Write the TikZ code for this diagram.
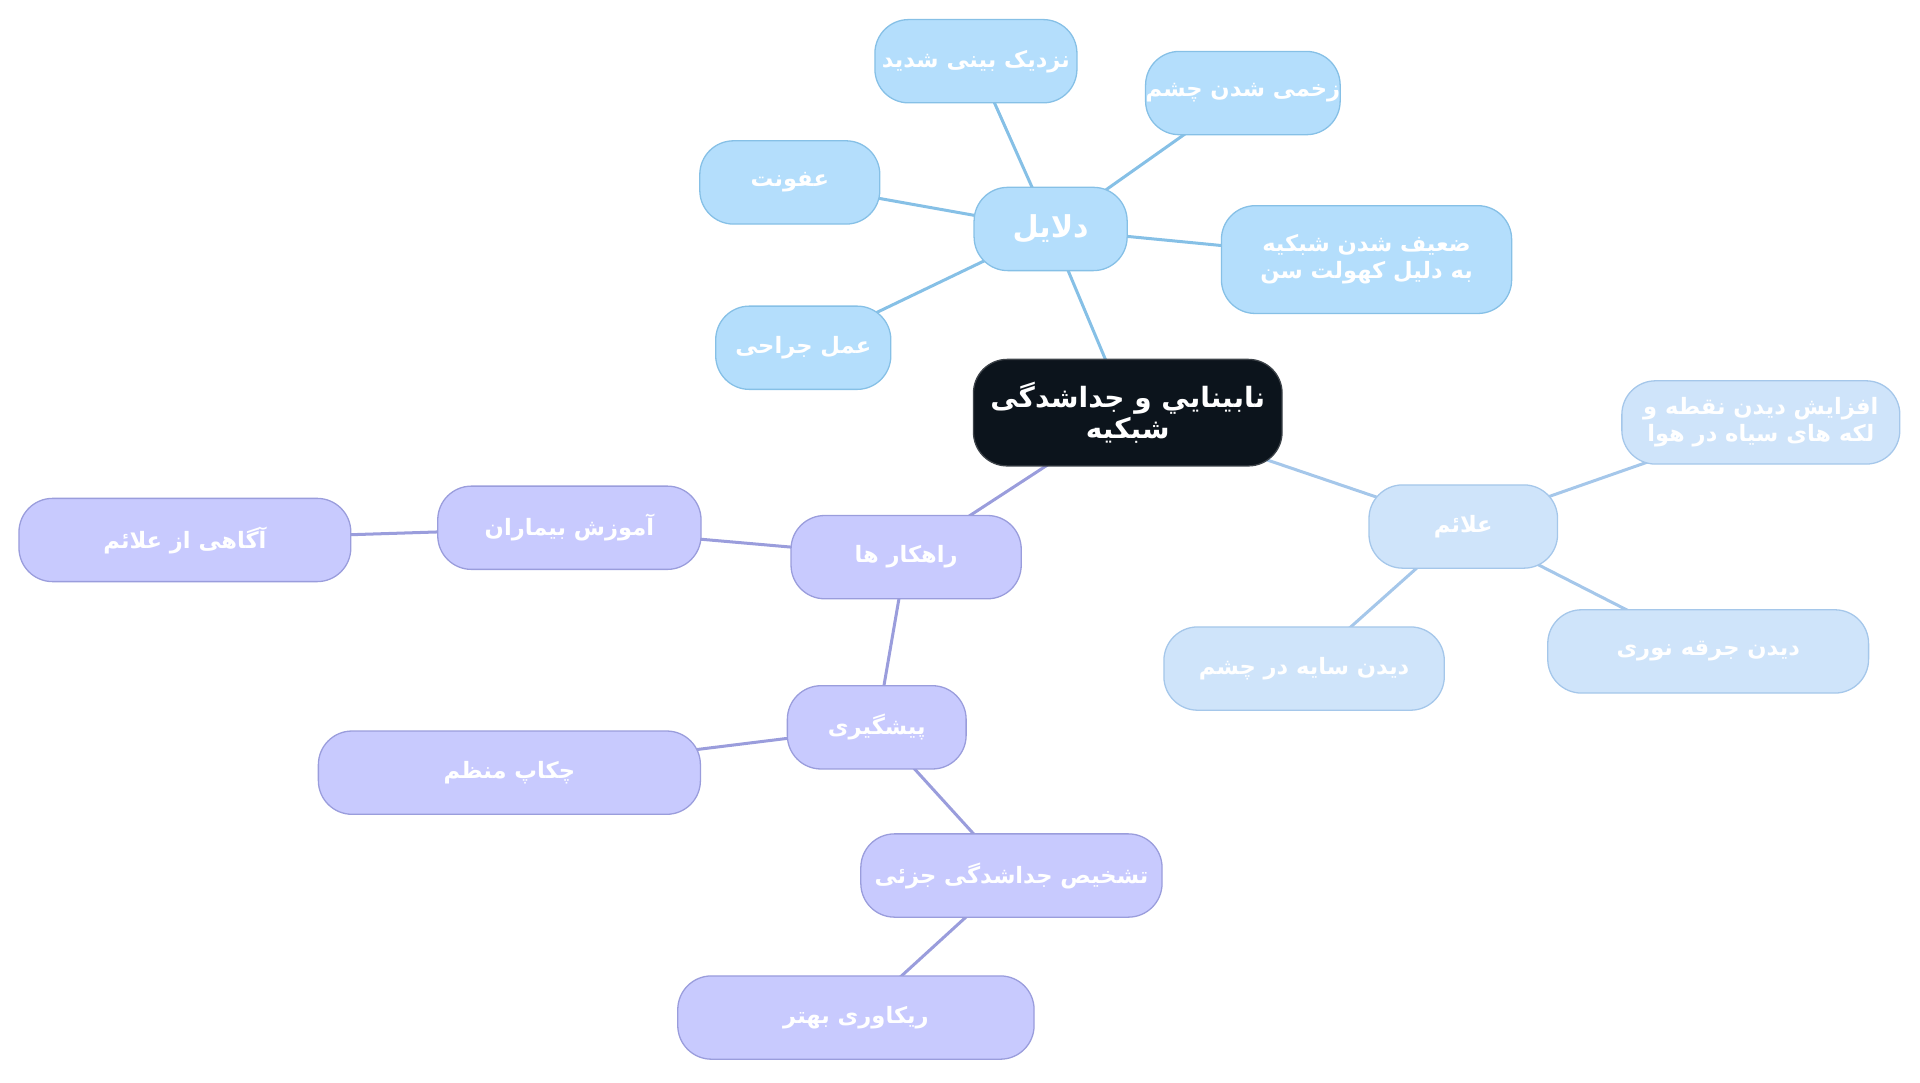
\documentclass[tikz,border=0pt]{standalone}
\usepackage{fontspec}
\TeXXeTstate=1
\newfontfamily\arabicfont[Script=Arabic]{DejaVu Sans}
\definecolor{RootBlack}{HTML}{0C141C}
\definecolor{CauseFill}{HTML}{B4DEFC}
\definecolor{CauseLine}{HTML}{86C0E6}
\definecolor{SignFill}{HTML}{CFE4FA}
\definecolor{SignLine}{HTML}{A5C7EA}
\definecolor{CureFill}{HTML}{C8CAFE}
\definecolor{CureLine}{HTML}{9A9DDC}

\begin{document}
\begin{tikzpicture}
      \tikzstyle{box}=[rectangle, rounded corners=.55cm, minimum height=1.36cm,
        inner xsep=0pt, inner ysep=2pt, align=center, text=white, line width=.6pt,
        font=\arabicfont\bfseries\fontsize{10.5}{12.5}\selectfont];
      \tikzstyle{root}=[box, fill=RootBlack, draw=RootBlack!80, minimum height=1.74cm,
        font=\arabicfont\bfseries\fontsize{13}{14}\selectfont];
      \tikzstyle{cause}=[box, fill=CauseFill, draw=CauseLine];
      \tikzstyle{sign}=[box, fill=SignFill, draw=SignLine];
      \tikzstyle{cure}=[box, fill=CureFill, draw=CureLine];
      \tikzstyle{link}=[line width=1.4pt];

      \pgfdeclarelayer{background}
      \pgfsetlayers{background,main}

      \useasboundingbox (0, 0) rectangle (31.36, -17.68);

      % centre
      \node[root, minimum width=5.04cm] (blind) at (18.42, -6.74)
        {\beginR نابينايي و جداشدگی\endR\\\beginR شبکیه\endR};

      % causes
      \node[cause, minimum width=2.5cm, font=\arabicfont\bfseries\fontsize{14}{14}\selectfont]
        (causes) at (17.16, -3.74) {\beginR دلایل\endR};
      \node[cause, minimum width=3.3cm] (myopia) at (15.94, -1.0) {\beginR نزدیک بینی شدید\endR};
      \node[cause, minimum width=3.14cm] (injury) at (20.30, -1.52) {\beginR زخمی شدن چشم\endR};
      \node[cause, minimum width=2.94cm] (infection) at (12.90, -2.98) {\beginR عفونت\endR};
      \node[cause, minimum width=4.74cm, minimum height=1.76cm] (aging) at (22.32, -4.24)
        {\beginR ضعیف شدن شبکیه\endR\\\beginR به دلیل کهولت سن\endR};
      \node[cause, minimum width=2.86cm] (surgery) at (13.12, -5.68) {\beginR عمل جراحی\endR};

      % signs
      \node[sign, minimum width=3.08cm] (signs) at (23.90, -8.60) {\beginR علائم\endR};
      \node[sign, minimum width=4.54cm] (floaters) at (28.76, -6.90)
        {\beginR افزایش دیدن نقطه و\endR\\\beginR لکه های سیاه در هوا\endR};
      \node[sign, minimum width=5.24cm] (flashes) at (27.90, -10.64) {\beginR دیدن جرقه نوری\endR};
      \node[sign, minimum width=4.58cm] (shadow) at (21.30, -10.92) {\beginR دیدن سایه در چشم\endR};

      % solutions
      \node[cure, minimum width=3.76cm] (ways) at (14.80, -9.10) {\beginR راهکار ها\endR};
      \node[cure, minimum width=4.3cm] (teach) at (9.30, -8.62) {\beginR آموزش بیماران\endR};
      \node[cure, minimum width=5.42cm] (aware) at (3.02, -8.82) {\beginR آگاهی از علائم\endR};
      \node[cure, minimum width=2.92cm] (prevent) at (14.32, -11.88) {\beginR پیشگیری\endR};
      \node[cure, minimum width=6.24cm] (checkup) at (8.32, -12.62) {\beginR چکاپ منظم\endR};
      \node[cure, minimum width=4.92cm] (detect) at (16.52, -14.30) {\beginR تشخیص جداشدگی جزئی\endR};
      \node[cure, minimum width=5.82cm] (recover) at (13.98, -16.62) {\beginR ریکاوری بهتر\endR};

      \begin{pgfonlayer}{background}
        \draw[link, CauseLine] (blind.center) -- (causes.center);
        \foreach \n in {myopia, injury, infection, aging, surgery}
          \draw[link, CauseLine] (causes.center) -- (\n.center);

        \draw[link, SignLine] (blind.center) -- (signs.center);
        \foreach \n in {floaters, flashes, shadow}
          \draw[link, SignLine] (signs.center) -- (\n.center);

        \draw[link, CureLine] (blind.center) -- (ways.center);
        \draw[link, CureLine] (ways.center) -- (teach.center);
        \draw[link, CureLine] (teach.center) -- (aware.center);
        \draw[link, CureLine] (ways.center) -- (prevent.center);
        \draw[link, CureLine] (prevent.center) -- (checkup.center);
        \draw[link, CureLine] (prevent.center) -- (detect.center);
        \draw[link, CureLine] (detect.center) -- (recover.center);
      \end{pgfonlayer}
    \end{tikzpicture}
\end{document}
